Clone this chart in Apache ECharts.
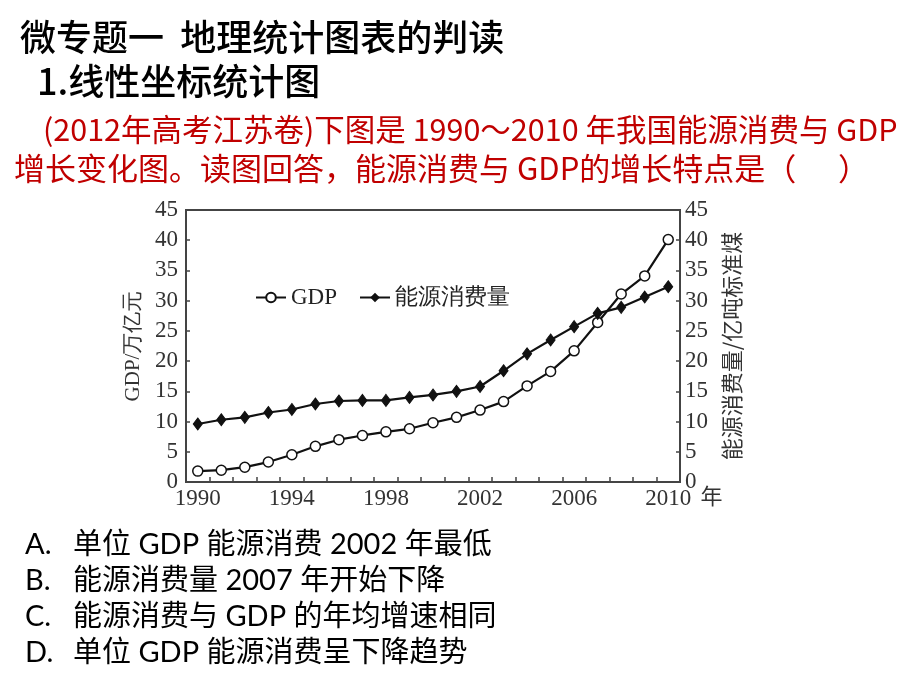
<!DOCTYPE html>
<html>
<head>
<meta charset="utf-8">
<script src="https://cdn.jsdelivr.net/npm/echarts@6/dist/echarts.min.js"></script>
<style>
html,body{margin:0;padding:0;background:#fff;}
#chart{width:920px;height:690px;}
</style>
</head>
<body>
<div id="chart"></div>
<script>
// ---- data ----
var years = ['1990','1991','1992','1993','1994','1995','1996','1997','1998','1999','2000',
             '2001','2002','2003','2004','2005','2006','2007','2008','2009','2010'];
var gdp = [1.8, 1.95, 2.45, 3.3, 4.5, 5.9, 7.0, 7.7, 8.3, 8.8, 9.8,
           10.7, 11.9, 13.3, 15.9, 18.3, 21.7, 26.4, 31.1, 34.1, 40.1];
var energy = [9.6, 10.3, 10.7, 11.5, 12.0, 12.9, 13.4, 13.5, 13.5, 14.0, 14.4,
              15.0, 15.8, 18.4, 21.2, 23.5, 25.7, 27.9, 28.9, 30.6, 32.3];
var seriesNames = ['GDP', '能源消费量'];
var yTicks = {min: 0, max: 45, interval: 5};
var leftAxisName = 'GDP/万亿元';
var rightAxisName = '能源消费量/亿吨标准煤';
var xAxisName = '年';
var titleLines = ['微专题一  地理统计图表的判读', '1.线性坐标统计图'];
var questionLines = ['(2012年高考江苏卷)下图是 1990～2010 年我国能源消费与 GDP',
                     '增长变化图。读图回答，能源消费与 GDP的增长特点是（      ）'];
var optionLetters = ['A.', 'B.', 'C.', 'D.'];
var optionTexts = ['单位 GDP 能源消费 2002 年最低',
                   '能源消费量 2007 年开始下降',
                   '能源消费与 GDP 的年均增速相同',
                   '单位 GDP 能源消费呈下降趋势'];

// ---- chart ----
var chart = echarts.init(document.getElementById('chart'), null, {renderer: 'canvas'});
var serif = '"Liberation Serif", "Times New Roman", serif';
var cjk = '"Noto Sans CJK SC", sans-serif';
var axisColor = '#444';

var graphics = [];
graphics.push({type: 'text', left: 20, top: 19, style: {text: titleLines[0], font: '500 36px ' + cjk, fill: '#000'}});
graphics.push({type: 'text', left: 37, top: 63, style: {text: titleLines[1], font: '500 36px ' + cjk, fill: '#000'}});
graphics.push({type: 'text', left: 43, top: 114, style: {text: questionLines[0], font: 'normal 30.5px ' + cjk, fill: '#c00000'}});
graphics.push({type: 'text', left: 14, top: 153, style: {text: questionLines[1], font: 'normal 31px ' + cjk, fill: '#c00000'}});
var optY = [530, 566, 602, 638];
for (var i = 0; i < optionLetters.length; i++) {
  graphics.push({type: 'text', left: 25, top: optY[i], style: {text: optionLetters[i], font: 'normal 29px Lato, ' + cjk, fill: '#000'}});
  graphics.push({type: 'text', left: 73, top: optY[i], style: {text: optionTexts[i], font: 'normal 29px Lato, ' + cjk, fill: '#000'}});
}

var option = {
  backgroundColor: '#fff',
  animation: false,
  graphic: graphics,
  legend: {
    left: 250, top: 281,
    itemWidth: 30, itemHeight: 12, itemGap: 22,
    textStyle: {fontFamily: serif, fontSize: 23, color: '#222'},
    data: seriesNames
  },
  grid: {
    left: 186, right: 240, top: 210, bottom: 208,
    show: true, borderColor: axisColor, borderWidth: 2, backgroundColor: 'transparent'
  },
  xAxis: {
    type: 'category',
    data: years,
    boundaryGap: true,
    name: xAxisName,
    nameLocation: 'end',
    nameGap: 15,
    nameTextStyle: {fontFamily: cjk, fontSize: 22, color: '#333', verticalAlign: 'top', padding: [3, 0, 0, 0]},
    axisLine: {lineStyle: {color: axisColor, width: 2}},
    axisTick: {show: true, inside: true, length: 5, interval: 0, lineStyle: {color: axisColor, width: 1.5}},
    axisLabel: {interval: 3, margin: 5, fontFamily: serif, fontSize: 23, color: '#333'},
    splitLine: {show: false}
  },
  yAxis: [{
    type: 'value',
    min: yTicks.min, max: yTicks.max, interval: yTicks.interval,
    position: 'left',
    name: leftAxisName,
    nameLocation: 'middle',
    nameRotate: 90,
    nameGap: 33,
    nameTextStyle: {fontFamily: serif, fontSize: 21, color: '#333'},
    axisLine: {show: true, lineStyle: {color: axisColor, width: 2}},
    axisTick: {show: true, inside: true, length: 4, lineStyle: {color: axisColor, width: 1.5}},
    axisLabel: {margin: 8, fontFamily: serif, fontSize: 23, color: '#333'},
    splitLine: {show: false}
  }, {
    type: 'value',
    min: yTicks.min, max: yTicks.max, interval: yTicks.interval,
    position: 'right',
    name: rightAxisName,
    nameLocation: 'middle',
    nameRotate: 90,
    nameGap: 41,
    nameTextStyle: {fontFamily: cjk, fontSize: 22, color: '#333'},
    axisLine: {show: true, lineStyle: {color: axisColor, width: 2}},
    axisTick: {show: true, inside: true, length: 4, lineStyle: {color: axisColor, width: 1.5}},
    axisLabel: {margin: 5, fontFamily: serif, fontSize: 23, color: '#333'},
    splitLine: {show: false}
  }],
  series: [{
    name: seriesNames[0],
    type: 'line',
    yAxisIndex: 0,
    data: gdp,
    symbol: 'circle',
    symbolSize: 10,
    lineStyle: {color: '#111', width: 2.2},
    itemStyle: {color: '#fff', borderColor: '#111', borderWidth: 1.5}
  }, {
    name: seriesNames[1],
    type: 'line',
    yAxisIndex: 1,
    data: energy,
    symbol: 'diamond',
    symbolSize: [9, 12],
    lineStyle: {color: '#111', width: 2.2},
    itemStyle: {color: '#111', borderColor: '#111'}
  }]
};
chart.setOption(option);
</script>
</body>
</html>
